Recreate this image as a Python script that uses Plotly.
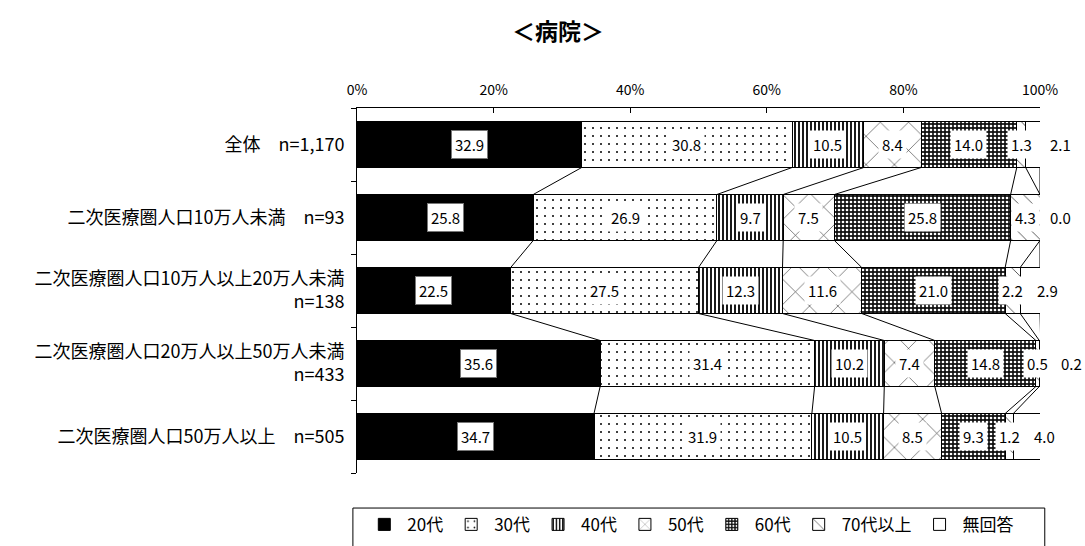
import plotly.graph_objects as go

# categories (top to bottom)
row_labels = [
    '全体　n=1,170',
    '二次医療圏人口10万人未満　n=93',
    '二次医療圏人口10万人以上20万人未満<br>n=138',
    '二次医療圏人口20万人以上50万人未満<br>n=433',
    '二次医療圏人口50万人以上　n=505',
]
series_names = ['20代', '30代', '40代', '50代', '60代', '70代以上', '無回答']

v20 = [32.9, 25.8, 22.5, 35.6, 34.7]
v30 = [30.8, 26.9, 27.5, 31.4, 31.9]
v40 = [10.5, 9.7, 12.3, 10.2, 10.5]
v50 = [8.4, 7.5, 11.6, 7.4, 8.5]
v60 = [14.0, 25.8, 21.0, 14.8, 9.3]
v70 = [1.3, 4.3, 2.2, 0.5, 1.2]
vna = [2.1, 0.0, 2.9, 0.2, 4.0]
series_vals = [v20, v30, v40, v50, v60, v70, vna]

x_ticks = [0, 20, 40, 60, 80, 100]

FONT = 'Noto Sans CJK JP'

patterns = [
    dict(shape='', bgcolor='black'),
    dict(shape='.', fgcolor='black', bgcolor='white', size=8, solidity=0.05, fillmode='replace'),
    dict(shape='|', fgcolor='black', bgcolor='white', size=4, solidity=0.45, fillmode='replace'),
    dict(shape='x', fgcolor='#333', bgcolor='white', size=20, solidity=0.06, fillmode='replace'),
    dict(shape='.', fgcolor='white', bgcolor='#111', size=4, solidity=0.35, fillmode='replace'),
    dict(shape='\\', fgcolor='#333', bgcolor='white', size=10, solidity=0.08, fillmode='replace'),
    dict(shape='', bgcolor='white'),
]
base_colors = ['black', 'white', 'white', 'white', 'white', 'white', 'white']

rows = list(range(len(row_labels)))
bar_w = 0.63

fig = go.Figure()
for name, vals, pat, col in zip(series_names, series_vals, patterns, base_colors):
    fig.add_trace(go.Bar(
        y=rows, x=vals, name=name, orientation='h', width=bar_w,
        marker=dict(color=col, pattern=pat, line=dict(color='black', width=1)),
        hoverinfo='x+name'
    ))

# cumulative boundaries
cums = []
run = [0.0] * len(rows)
for vals in series_vals:
    starts = run[:]
    run = [a + b for a, b in zip(run, vals)]
    cums.append((starts, run[:]))

# series lines between adjacent bars
h = bar_w / 2
for starts, ends in cums:
    for r in rows[:-1]:
        fig.add_shape(type='line', xref='x', yref='y',
                      x0=ends[r], y0=r + h, x1=ends[r + 1], y1=r + 1 - h,
                      line=dict(color='black', width=1))

# value labels ("無回答" sits just right of the bar end)
shift_na = [20, 20, 7, 31, 4]
for i, (vals, (starts, ends)) in enumerate(zip(series_vals, cums)):
    for r in rows:
        v = vals[r]
        if i < 6:
            xv, xs = (starts[r] + ends[r]) / 2, 0
        else:
            xv, xs = 100, shift_na[r]
        fig.add_annotation(
            x=xv, y=r, xref='x', yref='y', text=f'{v:.1f}', showarrow=False,
            xshift=xs, font=dict(family=FONT, size=15, color='black'),
            bgcolor='white' if i < 6 else 'rgba(0,0,0,0)',
            bordercolor='#777' if i == 0 else 'rgba(0,0,0,0)',
            borderwidth=1, borderpad=3
        )

# legend frame
fig.add_shape(type='rect', xref='paper', yref='paper',
              x0=-0.006, x1=1.007, y0=-0.3, y1=-0.096,
              line=dict(color='black', width=1), fillcolor='rgba(0,0,0,0)')

fig.add_annotation(text='<b>＜病院＞</b>', xref='paper', yref='paper', x=0.294, y=1.0,
                   yshift=78, showarrow=False, xanchor='center', yanchor='middle',
                   font=dict(family=FONT, size=23, color='black'))

fig.update_layout(
    barmode='stack',
    width=1085, height=546,
    margin=dict(l=357, r=45, t=108, b=73, autoexpand=False),
    plot_bgcolor='white', paper_bgcolor='white',
    font=dict(family=FONT, size=15, color='black'),
    showlegend=True,
    legend=dict(orientation='h', x=0.488, xanchor='center', y=-0.142, yanchor='middle',
                font=dict(family=FONT, size=17), traceorder='normal',
                bgcolor='rgba(0,0,0,0)', itemwidth=36),
    xaxis=dict(range=[0, 100], side='top', tickvals=x_ticks,
               ticktext=[f'{t}%' for t in x_ticks], ticks='inside', ticklen=5,
               tickcolor='black', showline=True, linecolor='black', linewidth=1,
               showgrid=False, zeroline=False, fixedrange=True, ticklabelstandoff=6,
               tickfont=dict(family=FONT, size=14)),
    yaxis=dict(range=[4.5, -0.5], tickvals=rows, ticktext=row_labels, ticks='',
               showline=True, linecolor='black', linewidth=1, showgrid=False,
               zeroline=False, fixedrange=True, ticklabelstandoff=8,
               minor=dict(tickvals=[r - 0.5 for r in rows] + [len(rows) - 0.5],
                          ticks='outside', ticklen=5, tickcolor='black', showgrid=False),
               tickfont=dict(family=FONT, size=18)),
)

fig.write_html('out.html', config={'displayModeBar': False},
               post_script="document.body.style.margin='0';")
